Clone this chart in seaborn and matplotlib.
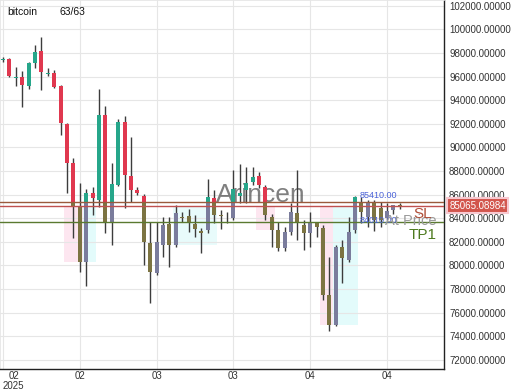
import numpy as np
import pandas as pd
import seaborn as sns
import matplotlib.pyplot as plt

# daily candles
opens = [97420, 97480, 95940, 95960, 95200, 97150, 98140, 96280, 96300, 95200,
         91980, 88680, 84950, 80300, 86140, 85550, 92740, 83600, 86820, 92150,
         87580, 86390, 85890, 81910, 79370, 81740, 83520, 81740, 84130, 84190,
         83520, 82920, 83010, 85720, 84280, 84190, 84020, 85890, 86390, 87070,
         87580, 86650, 84110, 83010, 81480, 82840, 84450, 83430, 82750, 83600,
         83180, 77500, 74960, 81570, 80470, 83010, 85380, 84110, 85380, 84870,
         84020, 84700, 85120]
highs = [97650, 97560, 96810, 96470, 97230, 98640, 99320, 96720, 96550, 95280,
         92070, 89100, 86990, 86480, 86650, 94950, 93510, 88680, 92410, 92660,
         90880, 86650, 86060, 83680, 83680, 84110, 84110, 85120, 84530, 84790,
         84280, 83180, 87330, 86390, 84700, 84530, 88090, 88600, 88340, 88340,
         87920, 86820, 84360, 83680, 83260, 85290, 88090, 83850, 84530, 83680,
         83430, 80720, 81740, 82160, 84110, 85890, 85800, 85550, 85550, 85380,
         85290, 85120, 85300]
lows = [97230, 95960, 95200, 93420, 94950, 96720, 94860, 96050, 95030, 91050,
        86140, 82330, 79450, 78270, 84280, 84950, 82750, 81740, 86730, 84870,
        85380, 85970, 80040, 76830, 79200, 80720, 79870, 81570, 83680, 82840,
        82410, 81060, 82750, 83600, 83090, 83600, 83850, 85300, 85300, 86820,
        86560, 83850, 81570, 81230, 81230, 82580, 82160, 81310, 81570, 82410,
        77080, 74460, 74880, 78520, 80300, 82750, 83600, 83260, 82920, 83260,
        83850, 84360, 84800]
closes = [97460, 96050, 95980, 95280, 97150, 98060, 96390, 96320, 95120, 92070,
          88680, 84950, 80300, 86140, 85720, 92740, 83600, 86900, 92150, 87660,
          86390, 86140, 81990, 79450, 81990, 83430, 81740, 84450, 84090, 83600,
          83090, 82760, 85800, 84280, 84250, 84230, 86480, 86150, 86990, 87490,
          86820, 84280, 83010, 81480, 82840, 84530, 83600, 82750, 83600, 83260,
          77500, 74960, 81570, 80640, 82840, 85800, 84530, 85380, 83850, 83850,
          84620, 85120, 85065.08984]

last_price = 85065.08984
sl_level = 85410.0
tp1_level = 83710.0
at_price_level = 84010.0

tick_idx = [0, 12, 24, 36, 48, 60]
tick_labels = ['02\n2025', '02', '03', '03', '04', '04']
y_ticks = list(range(72000, 102001, 2000))

# shaded runs below the stop line (start, end, colour)
bands = [(9.5, 12.5, '#fde6f0'), (12.5, 14.5, '#e3fbfb'),
         (26.5, 33.5, '#e8fbfb'), (39.5, 42.5, '#fde6f0'),
         (49.5, 51.5, '#fde6f0'), (51.5, 55.5, '#e3fbfb')]

df = pd.DataFrame({'open': opens, 'high': highs, 'low': lows, 'close': closes})
df['x'] = np.arange(len(df))
df['up'] = df['close'] >= df['open']
df['top'] = df[['open', 'close']].max(axis=1)
df['bot'] = df[['open', 'close']].min(axis=1)
df['bot'] = np.minimum(df['bot'], df['top'] - 70)

sns.set_theme(style='whitegrid')
plt.rcParams['font.family'] = ['Liberation Sans', 'DejaVu Sans']

fig = plt.figure(figsize=(5.2, 3.9), dpi=100)
ax = fig.add_axes([0, 21 / 390, 444 / 520, 369 / 390])
ax.set_facecolor('white')

for s, e, c in bands:
    sub = df[(df['x'] > s) & (df['x'] < e)]
    ax.fill_between([s, e], sub['bot'].min(), last_price, color=c, lw=0, zorder=0)

ax.text(40.3, 85950, 'Arincen', fontsize=19, color='#555555',
        alpha=0.75, ha='center', va='center', zorder=1)

ax.vlines(df['x'], df['low'], df['high'], color='#3c3c3c', lw=1, zorder=2)

# candle bodies: normal colours above the stop line, muted below it
hi_top = df['top']
hi_bot = np.maximum(df['bot'], sl_level)
lo_top = np.minimum(df['top'], sl_level)
lo_bot = df['bot']
w = 0.64
for up, c_hi, c_lo in [(True, '#26a68a', '#7a7c9c'), (False, '#e0384f', '#7c7442')]:
    m = df['up'] == up
    mh = m & (hi_top > hi_bot)
    ax.bar(df['x'][mh], (hi_top - hi_bot)[mh], bottom=hi_bot[mh], width=w,
           color=c_hi, lw=0, zorder=3)
    ml = m & (lo_top > lo_bot)
    ax.bar(df['x'][ml], (lo_top - lo_bot)[ml], bottom=lo_bot[ml], width=w,
           color=c_lo, lw=0, zorder=3)

ax.axhline(sl_level, color='#9a5a3c', lw=1, zorder=4)
ax.axhline(last_price, color='#c0504f', lw=1, zorder=4)
ax.axhline(tp1_level, color='#5a7a30', lw=1, zorder=4)

ax.text(58.6, sl_level + 120, '85410.00', fontsize=6.5, color='#4a62d8',
        ha='center', va='bottom', zorder=5)
ax.text(58.6, at_price_level - 200, '84010.00', fontsize=6.5, color='#4a62d8',
        ha='center', va='center', zorder=5)
ax.text(67.8, at_price_level - 250, 'At Price', fontsize=10.5, color='#9a9a9a',
        ha='right', va='center', zorder=5)
ax.text(67.0, 84360, 'SL', fontsize=11, color='#b0503a',
        ha='right', va='center', zorder=5)
ax.text(67.8, 82560, 'TP1', fontsize=11, color='#4d7a1f',
        ha='right', va='center', zorder=5)

ax.set_xlim(-0.47, 68.9)
ax.set_ylim(71236, 102481)
ax.set_xticks(tick_idx)
ax.set_xticklabels(tick_labels)
ax.set_yticks(y_ticks)
ax.set_yticklabels(['%.5f' % v for v in y_ticks])
ax.yaxis.tick_right()
ax.tick_params(axis='y', length=0, pad=3.6, labelsize=7, labelcolor='#333333')
ax.tick_params(axis='x', length=0, pad=1.5, labelsize=7, labelcolor='#333333')
first = ax.get_xticklabels()[0]
first.set_horizontalalignment('left')
first.set_multialignment('center')
first.set_linespacing(0.95)
ax.grid(True, color='#e6e6e6', lw=0.8)
for side in ['left', 'top']:
    ax.spines[side].set_color('#e6e6e6')
for side in ['right', 'bottom']:
    ax.spines[side].set_color('#222222')
    ax.spines[side].set_linewidth(1)

ax.text(0.017, 0.968, 'bitcoin', transform=ax.transAxes, fontsize=7.5,
        color='#111111', va='center')
ax.text(0.133, 0.968, '63/63', transform=ax.transAxes, fontsize=7.5,
        color='#111111', va='center')

ax.text(1.012, last_price, '85065.08984', transform=ax.get_yaxis_transform(),
        fontsize=7, color='white', va='center', ha='left', zorder=6,
        bbox=dict(boxstyle='square,pad=0.25', fc='#d2554c', ec='#f8c8d0', lw=1.5),
        clip_on=False)

fig.savefig('out.png', dpi=100)
